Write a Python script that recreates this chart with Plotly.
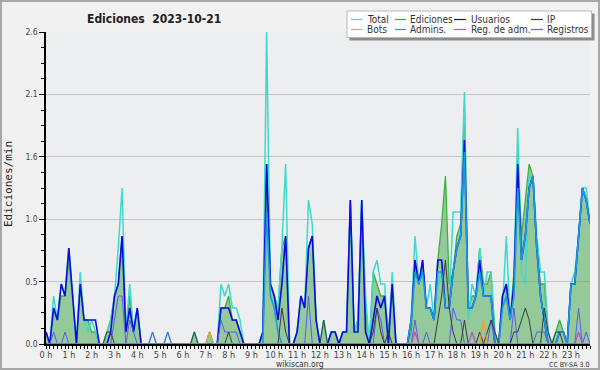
import plotly.graph_objects as go

# ---------------- data (edits per minute, 10-minute steps, 00:00 .. 23:50) ----------------
title_text = "Ediciones \u00a02023-10-21"
hour_labels = [f"{h} h" for h in range(24)]
y_tick_labels = ["0.0", "0.5", "1.0", "1.6", "2.1", "2.6"]
series_names = ["Total", "Ediciones", "Usuarios", "IP", "Bots", "Admins.", "Reg. de adm.", "Registros"]

total = [
    0.1, 0.0, 0.4, 0.2, 0.5, 0.4, 0.8, 0.4, 0.0, 0.6, 0.2, 0.1,
    0.2, 0.1, 0.0, 0.0, 0.1, 0.2, 0.4, 0.8, 1.3, 0.1, 0.5, 0.1,
    0.3, 0.0, 0.0, 0.0, 0.1, 0.0, 0.0, 0.0, 0.1, 0.0, 0.0, 0.0,
    0.0, 0.0, 0.0, 0.1, 0.0, 0.0, 0.0, 0.1, 0.0, 0.0, 0.5, 0.4,
    0.5, 0.3, 0.3, 0.2, 0.0, 0.0, 0.0, 0.0, 0.0, 0.1, 2.6, 0.5,
    0.4, 0.3, 0.8, 1.5, 0.0, 0.0, 0.1, 0.4, 0.3, 1.2, 1.0, 0.2,
    0.0, 0.2, 0.0, 0.1, 0.1, 0.0, 0.1, 0.1, 1.2, 0.1, 0.2, 1.2,
    0.4, 0.0, 0.6, 0.7, 0.5, 0.5, 0.0, 0.6, 0.0, 0.0, 0.0, 0.0,
    0.2, 0.9, 0.5, 0.6, 0.3, 0.5, 0.2, 0.5, 0.6, 0.3, 0.3, 1.1,
    1.1, 1.1, 2.1, 0.2, 0.5, 0.4, 0.8, 0.4, 0.6, 0.6, 0.0, 0.0,
    0.3, 0.9, 0.2, 0.5, 1.8, 0.6, 0.5, 1.4, 1.4, 0.9, 0.6, 0.6,
    0.1, 0.0, 0.1, 0.1, 0.1, 0.0, 0.5, 0.6, 0.9, 1.3, 1.3, 1.0,
]
ediciones = [
    0.1, 0.0, 0.3, 0.2, 0.4, 0.4, 0.7, 0.4, 0.0, 0.5, 0.2, 0.2,
    0.1, 0.1, 0.0, 0.0, 0.1, 0.2, 0.4, 0.5, 0.9, 0.1, 0.4, 0.1,
    0.3, 0.0, 0.0, 0.0, 0.0, 0.0, 0.0, 0.0, 0.0, 0.0, 0.0, 0.0,
    0.0, 0.0, 0.0, 0.1, 0.0, 0.0, 0.0, 0.1, 0.0, 0.0, 0.3, 0.3,
    0.4, 0.2, 0.2, 0.1, 0.0, 0.0, 0.0, 0.0, 0.0, 0.1, 1.5, 0.5,
    0.4, 0.3, 0.8, 0.9, 0.0, 0.0, 0.1, 0.4, 0.3, 0.8, 0.9, 0.2,
    0.0, 0.2, 0.0, 0.1, 0.1, 0.0, 0.1, 0.1, 1.2, 0.1, 0.2, 1.2,
    0.3, 0.0, 0.6, 0.5, 0.4, 0.4, 0.1, 0.5, 0.0, 0.0, 0.0, 0.0,
    0.1, 0.7, 0.5, 0.7, 0.3, 0.3, 0.2, 0.7, 1.0, 1.4, 0.5, 0.6,
    0.9, 1.0, 2.0, 0.3, 0.4, 0.4, 0.8, 0.5, 0.5, 0.6, 0.1, 0.0,
    0.4, 0.5, 0.2, 0.6, 1.6, 0.9, 1.2, 1.5, 1.4, 0.8, 0.5, 0.5,
    0.1, 0.0, 0.1, 0.2, 0.1, 0.0, 0.5, 0.5, 0.9, 1.3, 1.2, 1.0,
]
usuarios = [
    0.1, 0.0, 0.3, 0.2, 0.5, 0.4, 0.8, 0.4, 0.0, 0.5, 0.2, 0.2,
    0.2, 0.2, 0.0, 0.0, 0.0, 0.1, 0.4, 0.5, 0.9, 0.1, 0.3, 0.1,
    0.3, 0.0, 0.0, 0.0, 0.0, 0.0, 0.0, 0.0, 0.0, 0.0, 0.0, 0.0,
    0.0, 0.0, 0.0, 0.0, 0.0, 0.0, 0.0, 0.0, 0.0, 0.0, 0.3, 0.3,
    0.3, 0.2, 0.2, 0.1, 0.0, 0.0, 0.0, 0.0, 0.0, 0.1, 1.5, 0.5,
    0.4, 0.2, 0.5, 0.9, 0.0, 0.0, 0.1, 0.4, 0.3, 0.8, 0.9, 0.2,
    0.0, 0.0, 0.0, 0.1, 0.1, 0.0, 0.1, 0.1, 1.2, 0.1, 0.1, 1.2,
    0.1, 0.0, 0.2, 0.4, 0.3, 0.4, 0.0, 0.5, 0.0, 0.0, 0.0, 0.0,
    0.2, 0.7, 0.5, 0.7, 0.3, 0.3, 0.2, 0.7, 0.7, 0.3, 0.3, 0.6,
    0.8, 0.9, 1.7, 0.3, 0.3, 0.4, 0.7, 0.4, 0.4, 0.4, 0.0, 0.0,
    0.4, 0.5, 0.2, 0.5, 1.5, 0.7, 0.9, 1.3, 1.4, 0.8, 0.4, 0.2,
    0.0, 0.0, 0.0, 0.1, 0.1, 0.0, 0.5, 0.5, 0.9, 1.3, 1.2, 1.0,
]
ip = [
    0.0, 0.0, 0.0, 0.0, 0.0, 0.0, 0.0, 0.0, 0.0, 0.0, 0.0, 0.0,
    0.0, 0.0, 0.0, 0.0, 0.1, 0.1, 0.0, 0.0, 0.0, 0.0, 0.0, 0.0,
    0.0, 0.0, 0.0, 0.0, 0.0, 0.0, 0.0, 0.0, 0.0, 0.0, 0.0, 0.0,
    0.0, 0.0, 0.0, 0.1, 0.0, 0.0, 0.0, 0.0, 0.0, 0.0, 0.0, 0.0,
    0.1, 0.0, 0.0, 0.0, 0.0, 0.0, 0.0, 0.0, 0.0, 0.0, 0.0, 0.0,
    0.0, 0.0, 0.3, 0.1, 0.0, 0.0, 0.0, 0.0, 0.0, 0.0, 0.0, 0.0,
    0.0, 0.2, 0.0, 0.0, 0.0, 0.0, 0.0, 0.0, 0.0, 0.0, 0.0, 0.0,
    0.0, 0.0, 0.1, 0.3, 0.1, 0.0, 0.1, 0.0, 0.0, 0.0, 0.0, 0.0,
    0.0, 0.0, 0.0, 0.0, 0.0, 0.0, 0.0, 0.2, 0.4, 0.7, 0.3, 0.1,
    0.0, 0.0, 0.2, 0.0, 0.0, 0.0, 0.1, 0.0, 0.1, 0.2, 0.1, 0.0,
    0.0, 0.0, 0.0, 0.1, 0.1, 0.2, 0.3, 0.2, 0.0, 0.0, 0.0, 0.3,
    0.1, 0.0, 0.1, 0.1, 0.0, 0.0, 0.0, 0.0, 0.0, 0.0, 0.0, 0.0,
]
bots = [
    0.0, 0.0, 0.0, 0.0, 0.0, 0.0, 0.0, 0.0, 0.0, 0.0, 0.0, 0.0,
    0.0, 0.0, 0.0, 0.0, 0.0, 0.0, 0.0, 0.0, 0.0, 0.0, 0.0, 0.0,
    0.0, 0.0, 0.0, 0.0, 0.0, 0.0, 0.0, 0.0, 0.0, 0.0, 0.0, 0.0,
    0.0, 0.0, 0.0, 0.0, 0.0, 0.0, 0.0, 0.1, 0.0, 0.0, 0.0, 0.0,
    0.0, 0.0, 0.0, 0.0, 0.0, 0.0, 0.0, 0.0, 0.0, 0.0, 0.0, 0.0,
    0.0, 0.0, 0.0, 0.0, 0.0, 0.0, 0.0, 0.0, 0.0, 0.0, 0.0, 0.0,
    0.0, 0.0, 0.0, 0.0, 0.0, 0.0, 0.0, 0.0, 0.0, 0.0, 0.0, 0.0,
    0.0, 0.0, 0.0, 0.0, 0.0, 0.0, 0.0, 0.0, 0.0, 0.0, 0.0, 0.0,
    0.0, 0.0, 0.0, 0.0, 0.0, 0.0, 0.0, 0.0, 0.0, 0.0, 0.0, 0.0,
    0.0, 0.0, 0.0, 0.0, 0.0, 0.0, 0.0, 0.2, 0.0, 0.0, 0.0, 0.0,
    0.0, 0.0, 0.0, 0.0, 0.0, 0.0, 0.0, 0.0, 0.0, 0.0, 0.0, 0.0,
    0.0, 0.0, 0.0, 0.0, 0.0, 0.0, 0.0, 0.0, 0.0, 0.0, 0.0, 0.0,
]
admins = [
    0.0, 0.0, 0.0, 0.0, 0.0, 0.0, 0.0, 0.0, 0.0, 0.0, 0.0, 0.0,
    0.0, 0.0, 0.0, 0.0, 0.0, 0.0, 0.0, 0.0, 0.0, 0.0, 0.0, 0.0,
    0.0, 0.0, 0.0, 0.0, 0.0, 0.0, 0.0, 0.0, 0.0, 0.0, 0.0, 0.0,
    0.0, 0.0, 0.0, 0.0, 0.0, 0.0, 0.0, 0.0, 0.0, 0.0, 0.0, 0.0,
    0.0, 0.0, 0.0, 0.0, 0.0, 0.0, 0.0, 0.0, 0.0, 0.0, 1.1, 0.4,
    0.3, 0.1, 0.0, 0.0, 0.0, 0.0, 0.0, 0.0, 0.0, 0.0, 0.0, 0.0,
    0.0, 0.0, 0.0, 0.0, 0.0, 0.0, 0.0, 0.0, 0.0, 0.0, 0.0, 0.0,
    0.0, 0.0, 0.0, 0.0, 0.0, 0.0, 0.0, 0.0, 0.0, 0.0, 0.0, 0.0,
    0.2, 0.6, 0.5, 0.6, 0.3, 0.3, 0.2, 0.6, 0.6, 0.3, 0.3, 0.6,
    0.8, 0.9, 1.6, 0.3, 0.3, 0.4, 0.6, 0.4, 0.4, 0.4, 0.0, 0.0,
    0.3, 0.4, 0.2, 0.4, 1.3, 0.7, 0.9, 1.3, 1.4, 0.8, 0.4, 0.2,
    0.0, 0.0, 0.0, 0.1, 0.1, 0.0, 0.5, 0.5, 0.9, 1.3, 1.2, 1.0,
]
reg_adm = [
    0.0, 0.0, 0.0, 0.0, 0.0, 0.0, 0.0, 0.0, 0.0, 0.0, 0.0, 0.0,
    0.0, 0.0, 0.0, 0.0, 0.0, 0.0, 0.0, 0.0, 0.0, 0.0, 0.0, 0.0,
    0.0, 0.0, 0.0, 0.0, 0.0, 0.0, 0.0, 0.0, 0.0, 0.0, 0.0, 0.0,
    0.0, 0.0, 0.0, 0.0, 0.0, 0.0, 0.0, 0.0, 0.0, 0.0, 0.0, 0.0,
    0.0, 0.0, 0.0, 0.0, 0.0, 0.0, 0.0, 0.0, 0.0, 0.0, 0.0, 0.0,
    0.0, 0.0, 0.0, 0.0, 0.0, 0.0, 0.0, 0.0, 0.0, 0.0, 0.0, 0.0,
    0.0, 0.0, 0.0, 0.0, 0.0, 0.0, 0.0, 0.0, 0.0, 0.0, 0.0, 0.0,
    0.0, 0.0, 0.0, 0.0, 0.0, 0.0, 0.0, 0.0, 0.0, 0.0, 0.0, 0.0,
    0.0, 0.1, 0.0, 0.0, 0.0, 0.0, 0.0, 0.0, 0.0, 0.0, 0.0, 0.0,
    0.0, 0.0, 0.0, 0.0, 0.1, 0.0, 0.0, 0.0, 0.0, 0.0, 0.0, 0.0,
    0.0, 0.0, 0.0, 0.0, 0.0, 0.0, 0.0, 0.0, 0.0, 0.0, 0.0, 0.0,
    0.0, 0.0, 0.0, 0.0, 0.0, 0.0, 0.0, 0.0, 0.1, 0.0, 0.0, 0.0,
]
registros = [
    0.0, 0.0, 0.1, 0.0, 0.0, 0.1, 0.0, 0.0, 0.0, 0.0, 0.0, 0.0,
    0.0, 0.0, 0.0, 0.0, 0.0, 0.0, 0.2, 0.4, 0.4, 0.0, 0.2, 0.1,
    0.0, 0.0, 0.0, 0.0, 0.1, 0.0, 0.0, 0.0, 0.1, 0.0, 0.0, 0.0,
    0.0, 0.0, 0.0, 0.0, 0.0, 0.0, 0.0, 0.0, 0.0, 0.0, 0.2, 0.1,
    0.1, 0.1, 0.1, 0.0, 0.0, 0.0, 0.0, 0.0, 0.0, 0.0, 0.0, 0.0,
    0.0, 0.0, 0.0, 0.0, 0.0, 0.0, 0.0, 0.0, 0.0, 0.4, 0.0, 0.0,
    0.0, 0.0, 0.0, 0.0, 0.0, 0.0, 0.0, 0.0, 0.0, 0.0, 0.0, 0.0,
    0.0, 0.0, 0.0, 0.3, 0.2, 0.0, 0.0, 0.0, 0.0, 0.0, 0.0, 0.0,
    0.0, 0.2, 0.0, 0.0, 0.1, 0.0, 0.0, 0.0, 0.0, 0.0, 0.0, 0.3,
    0.2, 0.2, 0.0, 0.0, 0.0, 0.0, 0.0, 0.0, 0.0, 0.2, 0.0, 0.0,
    0.0, 0.0, 0.0, 0.3, 0.0, 0.0, 0.0, 0.0, 0.0, 0.1, 0.1, 0.1,
    0.0, 0.0, 0.0, 0.0, 0.0, 0.0, 0.0, 0.0, 0.3, 0.0, 0.1, 0.0,
]

# ---------------- styling ----------------
FONT = "DejaVu Sans Condensed, DejaVu Sans, sans-serif"
MONO = "DejaVu Sans Mono, monospace"
colors = {
    "Total": "#3fd9cc",
    "Ediciones": "#3cb043",
    "Usuarios": "#0a0ae0",
    "IP": "#3a3a3a",
    "Bots": "#f0a030",
    "Admins.": "#1a9ae0",
    "Reg. de adm.": "#cc44dd",
    "Registros": "#5a5af0",
}
values = {
    "Total": total, "Ediciones": ediciones, "Usuarios": usuarios, "IP": ip,
    "Bots": bots, "Admins.": admins, "Reg. de adm.": reg_adm, "Registros": registros,
}
widths = {"Total": 1.5, "Ediciones": 1.3, "Usuarios": 1.6, "IP": 1.0,
          "Bots": 1.2, "Admins.": 1.6, "Reg. de adm.": 1.2, "Registros": 1.0}
draw_order = ["Ediciones", "Total", "Usuarios", "Admins.", "Registros", "IP", "Bots", "Reg. de adm."]

minutes = [10 * i for i in range(len(total))]
ymax = max(total)

W, H = 600, 370
L, R, T, B = 46, 590, 32, 344


def fx(px):
    return (px - L) / (R - L)


def fy(py):
    return (B - py) / (B - T)


fig = go.Figure()
for name in draw_order:
    kw = {}
    if name == "Ediciones":
        kw = dict(fill="tozeroy", fillcolor="rgba(60,163,65,0.5)")
    fig.add_trace(go.Scatter(
        x=minutes, y=values[name], mode="lines", name=name,
        line=dict(color=colors[name], width=widths[name]),
        hoverinfo="skip", showlegend=False, **kw))

fig.update_layout(
    width=W, height=H,
    margin=dict(l=L, r=W - R, t=T, b=H - B, pad=0),
    paper_bgcolor="#f1f1f1", plot_bgcolor="#eceef0",
    showlegend=False,
    xaxis=dict(
        range=[0, minutes[-1]], tickmode="array",
        tickvals=[60 * h for h in range(24)], ticktext=hour_labels,
        ticks="outside", ticklen=3, tickwidth=1, tickcolor="black",
        ticklabelstandoff=-2,
        showline=True, linecolor="black", linewidth=1.5,
        showgrid=False, zeroline=False,
        tickfont=dict(family=FONT, size=9, color="#444"),
        minor=dict(tickmode="linear", tick0=0, dtick=10, ticks="outside",
                   ticklen=3, tickwidth=1, tickcolor="black", showgrid=False),
    ),
    yaxis=dict(
        range=[0, ymax], tickmode="array",
        tickvals=[ymax * k / 5 for k in range(6)], ticktext=y_tick_labels,
        ticks="outside", ticklen=5, tickwidth=1, tickcolor="black",
        showline=True, linecolor="black", linewidth=1.5,
        showgrid=True, gridcolor="#c6c6c6", gridwidth=1, zeroline=False,
        tickfont=dict(family=FONT, size=8.5, color="#444"),
        minor=dict(tickmode="linear", tick0=0, dtick=ymax / 20, ticks="outside",
                   ticklen=3, tickwidth=1, tickcolor="black", showgrid=False),
    ),
)

shapes = [
    # outer frame
    dict(type="rect", xref="paper", yref="paper", x0=fx(1), x1=fx(599), y0=fy(369), y1=fy(1),
         line=dict(color="#a8a8a8", width=2), fillcolor="rgba(0,0,0,0)", layer="above"),
    # legend shadow + box
    dict(type="rect", xref="paper", yref="paper", x0=fx(349.5), x1=fx(594.5), y0=fy(40.5), y1=fy(13.5),
         line=dict(width=0), fillcolor="#8c8c8c", layer="above"),
    dict(type="rect", xref="paper", yref="paper", x0=fx(347), x1=fx(591.5), y0=fy(37.5), y1=fy(11),
         line=dict(color="#b8b8b8", width=1), fillcolor="#ffffff", layer="above"),
]
annotations = [
    dict(text=title_text, x=fx(85), y=fy(19), xref="paper", yref="paper", xanchor="left",
         yanchor="middle", showarrow=False,
         font=dict(family=FONT, size=12, color="#222", weight="bold")),
    dict(text="Ediciones/min", x=fx(8), y=fy(184), xref="paper", yref="paper", xanchor="center",
         yanchor="middle", showarrow=False, textangle=-90,
         font=dict(family=MONO, size=11, color="#222")),
    dict(text="wikiscan.org", x=fx(300), y=fy(364), xref="paper", yref="paper", xanchor="center",
         yanchor="middle", showarrow=False, font=dict(family=FONT, size=8.5, color="#333")),
    dict(text="CC BY-SA 3.0", x=fx(591), y=fy(365), xref="paper", yref="paper", xanchor="right",
         yanchor="middle", showarrow=False, font=dict(family=FONT, size=7, color="#333")),
]

col_lines = [(351, 362), (395, 406), (454, 466), (531, 543)]
col_text = [365, 408, 469, 545]
row_y = [19.5, 29.5]
for k, name in enumerate(series_names):
    row, col = divmod(k, 4)
    x0, x1 = col_lines[col]
    shapes.append(dict(type="line", xref="paper", yref="paper", x0=fx(x0), x1=fx(x1),
                       y0=fy(row_y[row]), y1=fy(row_y[row]),
                       line=dict(color=colors[name], width=1.2), layer="above"))
    annotations.append(dict(text=name, x=fx(col_text[col]), y=fy(row_y[row]), xref="paper",
                            yref="paper", xanchor="left", yanchor="middle", showarrow=False,
                            font=dict(family=FONT, size=10, color="#333")))

fig.update_layout(shapes=shapes, annotations=annotations)
fig.write_html(
    "out.html",
    config={"displayModeBar": False},
    post_script="document.body.style.margin='0';document.body.style.padding='0';",
)
